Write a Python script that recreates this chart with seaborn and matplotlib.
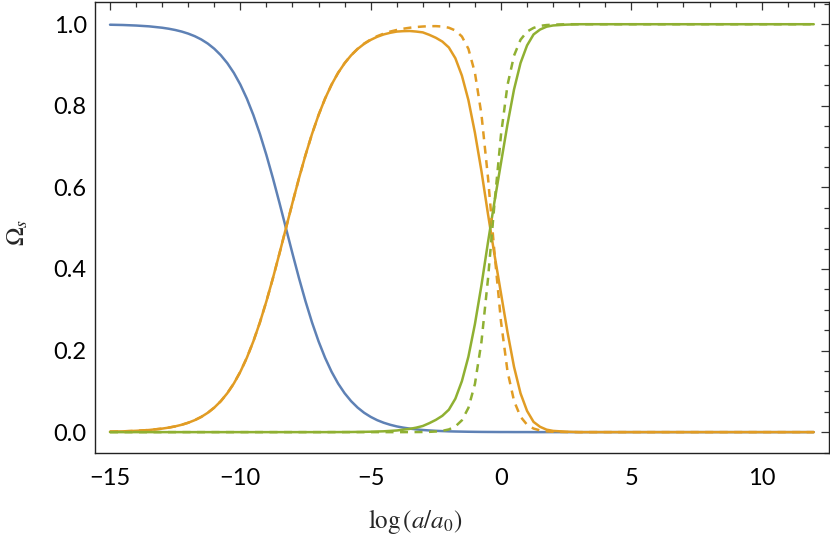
import matplotlib
matplotlib.use("Agg")
import matplotlib.pyplot as plt
import seaborn as sns
from matplotlib.ticker import MultipleLocator

# sample points (log a/a0)
x = [-15, -14.5, -14, -13.5,
     -13, -12.75, -12.5, -12.25,
     -12, -11.75, -11.5, -11.25,
     -11, -10.75, -10.5, -10.25,
     -10, -9.75, -9.5, -9.25,
     -9, -8.75, -8.5, -8.25,
     -8, -7.75, -7.5, -7.25,
     -7, -6.75, -6.5, -6.25,
     -6, -5.75, -5.5, -5.25,
     -5, -4.75, -4.5, -4.25,
     -4, -3.75, -3.5, -3.25,
     -3, -2.75, -2.5, -2.25,
     -2, -1.75, -1.5, -1.25,
     -1, -0.75, -0.5, -0.25,
     0, 0.25, 0.5, 0.75,
     1, 1.25, 1.5, 1.75,
     2, 2.5,
     3, 4, 5, 6, 7, 8, 9, 10, 11, 12]

# radiation (blue)
omega_r = [0.9988, 0.9981, 0.9968, 0.9948,
           0.9914, 0.9890, 0.9859, 0.9820,
           0.9770, 0.9707, 0.9627, 0.9526,
           0.9399, 0.9241, 0.9046, 0.8808,
           0.8520, 0.8176, 0.7773, 0.7311,
           0.6792, 0.6225, 0.5622, 0.5000,
           0.4378, 0.3775, 0.3208, 0.2689,
           0.2227, 0.1824, 0.1480, 0.1192,
           0.0954, 0.0759, 0.0601, 0.0474,
           0.0374, 0.0293, 0.0230, 0.0180,
           0.0140, 0.0110, 0.0086, 0.0067,
           0.0052, 0.0041, 0.0032, 0.0025,
           0.0019, 0.0015, 0.0012, 0.0009,
           0.0007, 0.0005, 0.0004, 0.0003,
           0.0002, 0.0002, 0.0001, 0.0001,
           0.0001, 0, 0, 0,
           0, 0,
           0, 0, 0, 0, 0, 0, 0, 0, 0, 0]

# matter (orange, solid)
omega_m = [0.0012, 0.0019, 0.0032, 0.0052,
           0.0086, 0.0110, 0.0141, 0.0180,
           0.0230, 0.0293, 0.0373, 0.0474,
           0.0601, 0.0759, 0.0954, 0.1192,
           0.1480, 0.1824, 0.2227, 0.2689,
           0.3208, 0.3775, 0.4378, 0.5000,
           0.5622, 0.6225, 0.6792, 0.7311,
           0.7773, 0.8176, 0.8520, 0.8807,
           0.9044, 0.9238, 0.9394, 0.9519,
           0.9616, 0.9692, 0.9750, 0.9790,
           0.9820, 0.9830, 0.9834, 0.9820,
           0.9800, 0.9740, 0.9668, 0.9575,
           0.943, 0.9165, 0.874, 0.814,
           0.734, 0.64, 0.535, 0.435,
           0.34, 0.245, 0.16, 0.095,
           0.052, 0.025, 0.013, 0.006,
           0.003, 0.001,
           0, 0, 0, 0, 0, 0, 0, 0, 0, 0]

# dark energy (green, solid)
omega_de = [0, 0, 0, 0,
            0, 0, 0, 0,
            0, 0, 0, 0,
            0, 0, 0, 0,
            0, 0, 0, 0,
            0, 0, 0, 0,
            0, 0, 0, 0,
            0, 0, 0.0001, 0.0001,
            0.0002, 0.0003, 0.0005, 0.0007,
            0.001, 0.0015, 0.002, 0.003,
            0.004, 0.006, 0.008, 0.011,
            0.015, 0.022, 0.03, 0.04,
            0.055, 0.082, 0.125, 0.185,
            0.265, 0.36, 0.465, 0.565,
            0.66, 0.755, 0.84, 0.905,
            0.948, 0.975, 0.987, 0.994,
            0.997, 0.999,
            1, 1, 1, 1, 1, 1, 1, 1, 1, 1]

# matter (orange, dashed)
omega_m_lcdm = [0.0012, 0.0019, 0.0032, 0.0052,
                0.0086, 0.0110, 0.0141, 0.0180,
                0.0230, 0.0293, 0.0373, 0.0474,
                0.0601, 0.0759, 0.0954, 0.1192,
                0.1480, 0.1824, 0.2227, 0.2689,
                0.3208, 0.3775, 0.4378, 0.5000,
                0.5622, 0.6225, 0.6792, 0.7311,
                0.7773, 0.8176, 0.8520, 0.8808,
                0.9046, 0.9241, 0.9399, 0.9526,
                0.9627, 0.9707, 0.9770, 0.9820,
                0.9859, 0.9890, 0.9914, 0.9932,
                0.9944, 0.9952, 0.9953, 0.9944,
                0.9914, 0.9847, 0.9699, 0.9397,
                0.881, 0.779, 0.625, 0.44,
                0.271, 0.149, 0.0766, 0.0377,
                0.0182, 0.0087, 0.0041, 0.002,
                0.0009, 0.0002,
                0, 0, 0, 0, 0, 0, 0, 0, 0, 0]

# cosmological constant (green, dashed)
omega_l_lcdm = [0, 0, 0, 0,
                0, 0, 0, 0,
                0, 0, 0, 0,
                0, 0, 0, 0,
                0, 0, 0, 0,
                0, 0, 0, 0,
                0, 0, 0, 0,
                0, 0, 0, 0,
                0, 0, 0, 0,
                0, 0, 0, 0,
                0, 0, 0.0001, 0.0002,
                0.0003, 0.0007, 0.0015, 0.0031,
                0.0066, 0.0139, 0.029, 0.0595,
                0.118, 0.221, 0.375, 0.56,
                0.729, 0.851, 0.923, 0.962,
                0.982, 0.991, 0.996, 0.998,
                0.999, 1.0,
                1, 1, 1, 1, 1, 1, 1, 1, 1, 1]

blue = "#5E81B5"
orange = "#E19C24"
green = "#8FB032"

sns.set_style("white")
plt.rcParams["font.family"] = ["Lato", "DejaVu Sans"]
plt.rcParams["mathtext.fontset"] = "stix"

fig = plt.figure(figsize=(8.3, 5.51), dpi=100)
ax = fig.add_axes([0.1145, 0.178, 0.884, 0.818])

lw = 1.8
dash = (0, (3.2, 2.6))
sns.lineplot(x=x, y=omega_r, color=blue, linewidth=lw, ax=ax, sort=False, estimator=None)
sns.lineplot(x=x, y=omega_m, color=orange, linewidth=lw, ax=ax, sort=False, estimator=None)
sns.lineplot(x=x, y=omega_de, color=green, linewidth=lw, ax=ax, sort=False, estimator=None)
sns.lineplot(x=x, y=omega_m_lcdm, color=orange, linewidth=lw, ax=ax, sort=False,
             estimator=None, linestyle=dash)
sns.lineplot(x=x, y=omega_l_lcdm, color=green, linewidth=lw, ax=ax, sort=False,
             estimator=None, linestyle=dash)

ax.set_xlim(-15.575, 12.575)
ax.set_ylim(-0.051, 1.054)

ax.xaxis.set_major_locator(MultipleLocator(5))
ax.xaxis.set_minor_locator(MultipleLocator(1))
ax.yaxis.set_major_locator(MultipleLocator(0.2))
ax.yaxis.set_minor_locator(MultipleLocator(0.05))
ax.yaxis.set_major_formatter(matplotlib.ticker.FormatStrFormatter("%.1f"))
ax.xaxis.set_major_formatter(matplotlib.ticker.FuncFormatter(
    lambda v, p: ("\u2212" if v < 0 else "") + "%d" % abs(v)))

for s in ax.spines.values():
    s.set_visible(True)
    s.set_color("#222222")
    s.set_linewidth(1.0)

ax.tick_params(which="both", direction="in", top=True, right=True,
               color="#333333", labelsize=17, labelcolor="black", width=0.9)
ax.tick_params(which="major", length=6)
ax.tick_params(which="minor", length=3.5)
ax.tick_params(axis="x", which="major", pad=11)
ax.tick_params(axis="y", which="major", pad=6)

ax.set_xlabel(r"$\log\left(a/a_0\right)$", fontsize=18, va="center")
ax.xaxis.set_label_coords(0.436, -0.153)
ax.set_ylabel(r"$\Omega_s$", fontsize=18, va="center")
ax.yaxis.set_label_coords(-0.105, 0.49)

fig.savefig("out.png", dpi=100)
